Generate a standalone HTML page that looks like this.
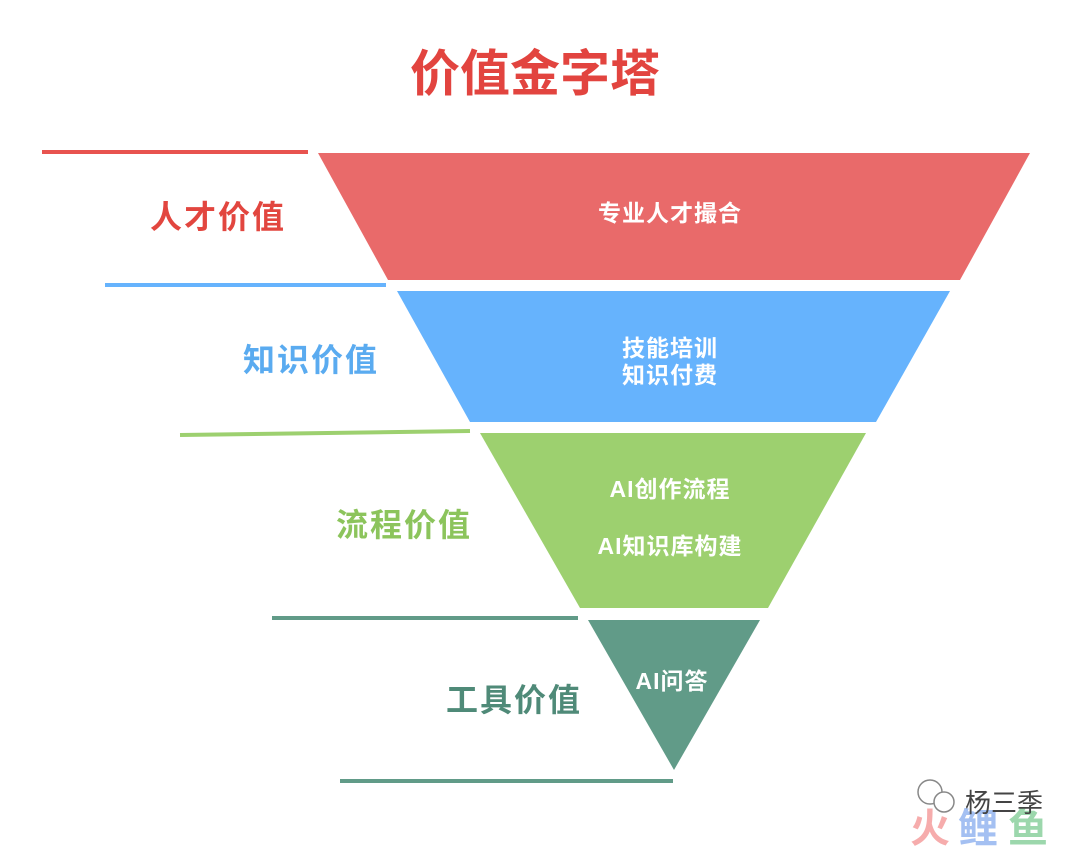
<!DOCTYPE html>
<html><head><meta charset="utf-8"><style>
body{margin:0;background:#fff;}
svg{display:block;}
text{font-family:"Liberation Sans","Noto Sans CJK SC",sans-serif;}
</style></head><body>
<svg width="1080" height="850" viewBox="0 0 1080 850">
<text x="535" y="91" font-size="50" font-weight="bold" fill="#e2443f" text-anchor="middle">价值金字塔</text>
<polygon points="318,153 1030,153 960,280 388,280" fill="#e96a6a"/>
<polygon points="397,291 950,291 876,422 470,422" fill="#66b3fd"/>
<polygon points="480,433 866,433 768,608 580,608" fill="#9dd06f"/>
<polygon points="588,620 760,620 674,770" fill="#619b88"/>
<line x1="42" y1="152" x2="308" y2="152" stroke="#e8534f" stroke-width="4"/>
<line x1="105" y1="285" x2="386" y2="285" stroke="#66b3fd" stroke-width="4"/>
<line x1="180" y1="435" x2="470" y2="431" stroke="#9dd06f" stroke-width="4"/>
<line x1="272" y1="618" x2="578" y2="618" stroke="#619b88" stroke-width="4"/>
<line x1="340" y1="781" x2="673" y2="781" stroke="#619b88" stroke-width="4"/>
<g font-size="32" font-weight="bold" letter-spacing="2">
<text x="150" y="228" fill="#e2463f">人才价值</text>
<text x="243" y="371" fill="#5aabf0">知识价值</text>
<text x="336" y="536" fill="#8cc45c">流程价值</text>
<text x="446" y="711" fill="#4f8a78">工具价值</text>
</g>
<g font-size="23" font-weight="bold" fill="#fff" text-anchor="middle" letter-spacing="1">
<text x="670" y="221">专业人才撮合</text>
<text x="670" y="356">技能培训</text>
<text x="670" y="383">知识付费</text>
<text x="670" y="497">AI创作流程</text>
<text x="670" y="554">AI知识库构建</text>
<text x="672" y="689">AI问答</text>
</g>
<g opacity="0.55" font-size="40" font-weight="bold">
<text x="910" y="842" fill="#f06a6a">火</text>
<text x="958" y="842" fill="#5b8de8">鲤</text>
<text x="1008" y="842" fill="#4cb86a">鱼</text>
</g>
<text x="965" y="812" font-size="26" fill="#444">杨三季</text>
<circle cx="930" cy="792" r="12" fill="none" stroke="#888" stroke-width="1.5"/>
<circle cx="944" cy="802" r="10" fill="#fff" stroke="#888" stroke-width="1.5"/>
</svg>
</body></html>
